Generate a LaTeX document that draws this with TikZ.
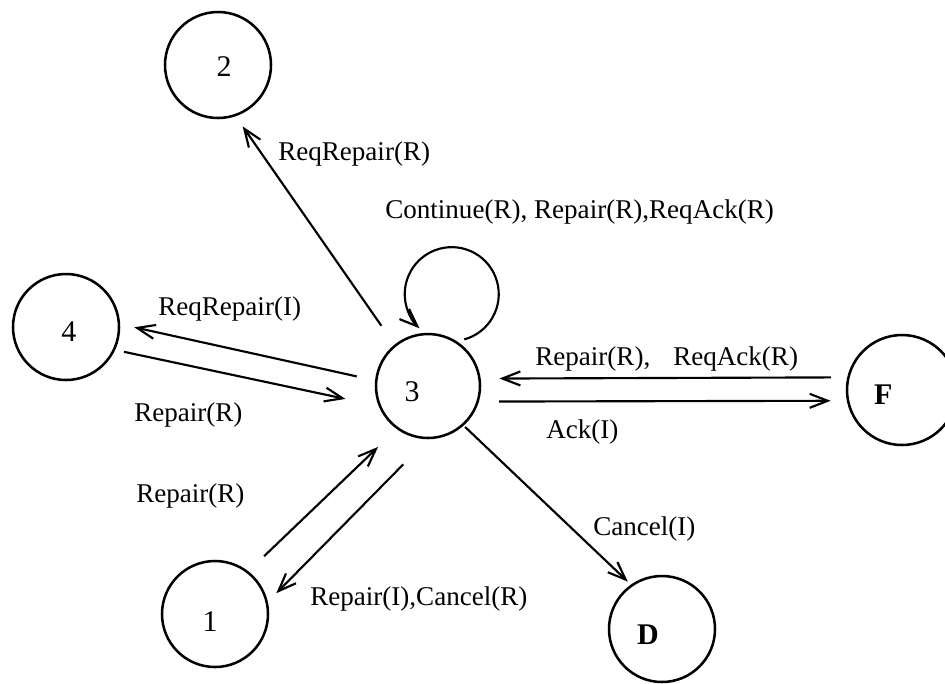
\documentclass[tikz,border=0pt]{standalone}
\usepackage{fontspec}
\setmainfont{Liberation Serif}
\usetikzlibrary{arrows.meta}

\begin{document}
\begin{tikzpicture}[x=0.75pt,y=0.75pt,
  every node/.style={font=\fontsize{20.3pt}{24pt}\selectfont},
  every label/.style={font=\fontsize{22.5pt}{26pt}\selectfont},
  state/.style={draw, circle, line width=1.9pt, inner sep=0pt, minimum size=79.5pt},
  lbl/.style={inner sep=0pt, anchor=base west},
  arr/.style={line width=1.6pt, -{Straight Barb[length=13.5pt,width=10.5pt]}}
]
\useasboundingbox (0,0) rectangle (945,-683);

% states (positions in pixel units, y downwards negated)
\node[state, label={[xshift=4.5pt,yshift=-1.5pt]center:2}] (n2) at (218,-65) {};
\node[state, label={[xshift=2.2pt,yshift=-3.7pt]center:4}] (n4) at (66,-327) {};
\node[state, minimum size=78pt, label={[xshift=-12pt,yshift=-4.5pt]center:3}] (n3) at (428,-386) {};
\node[state, minimum size=82.5pt, label={[xshift=-14pt,yshift=-3.7pt]center:\textbf{F}}] (nF) at (902,-390) {};
\node[state, label={[xshift=-3.7pt,yshift=-6pt]center:1}] (n1) at (215,-614) {};
\node[state, label={[xshift=-10.5pt,yshift=-4.5pt]center:\textbf{D}}] (nD) at (662,-629) {};

% transitions
\draw[arr, shorten <=17.2pt, shorten >=9.2pt] (n3.129.5) -- (n2.289.8);
\draw[arr, shorten <=14pt, shorten >=10.8pt] (n3.174.6) -- (n4.3.4);
\draw[arr, shorten <=6.75pt, shorten >=25.4pt] (n4.335.4) -- (n3.202.7);
\draw[arr, shorten <=12.2pt, shorten >=14pt] (nF.167.4) -- (n3.8.8);
\draw[arr, shorten <=15.2pt, shorten >=12.1pt] (n3.343.2) -- (nF.191.5);
\draw[arr, shorten <=1.5pt, shorten >=3.2pt] (n3.312.6) -- (nD.125.6);
\draw[arr, shorten <=16.3pt, shorten >=19.3pt] (n1.52.2) -- (n3.234.1);
\draw[arr, shorten <=26.4pt, shorten >=9pt] (n3.270.9) -- (n1.13.5);

% self loop on state 3
\draw[arr] ([shift={(3.5,4.6)}]n3.52.7) arc[start angle=-74.5, end angle=226.7, radius=47];

% transition labels
\node[lbl] (tReqRepR) at (278,-160) {ReqRepair(R)};
\node[lbl] (tLoop) at (385,-218) {Continue(R), Repair(R),ReqAck(R)};
\node[lbl] (tReqRepI) at (158,-315) {ReqRepair(I)};
\node[lbl] (tRep4) at (134,-421) {Repair(R)};
\node[lbl] (tRep1) at (136,-502) {Repair(R)};
\node[lbl] (tRepAck) at (535,-365) {Repair(R),\hspace{0.85em}ReqAck(R)};
\node[lbl] (tAck) at (546,-438) {Ack(I)};
\node[lbl] (tCancel) at (593,-535) {Cancel(I)};
\node[lbl] (tRepCan) at (310,-605) {Repair(I),Cancel(R)};
\end{tikzpicture}
\end{document}
